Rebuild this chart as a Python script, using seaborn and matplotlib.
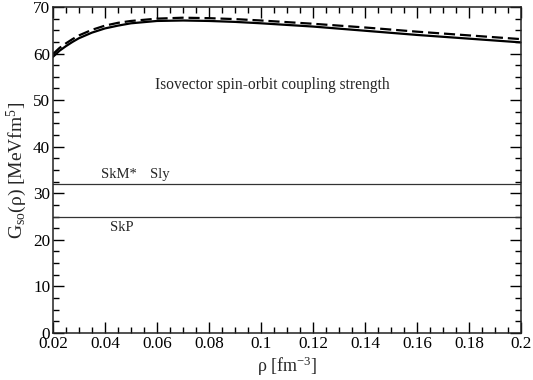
import numpy as np
import pandas as pd
import seaborn as sns
import matplotlib
matplotlib.use("Agg")
import matplotlib.pyplot as plt
import matplotlib.ticker as mtick

# density grid (fm^-3) and the two coupling-strength curves
rho = [0.02, 0.0225, 0.025, 0.0275, 0.03, 0.035, 0.04, 0.045, 0.05, 0.06, 0.07,
       0.08, 0.09, 0.10, 0.12, 0.14, 0.16, 0.18, 0.20]
g_solid = [59.3, 60.6, 61.6, 62.5, 63.3, 64.5, 65.4, 66.0, 66.5, 67.0, 67.1,
           67.0, 66.8, 66.5, 65.8, 64.9, 64.0, 63.2, 62.4]
g_dashed = [59.9, 61.2, 62.2, 63.1, 63.9, 65.1, 66.0, 66.6, 67.0, 67.5, 67.7,
            67.6, 67.4, 67.1, 66.4, 65.6, 64.7, 63.9, 63.1]

# constant values of the standard Skyrme forces
const_vals = [32.0, 25.0]

df = pd.DataFrame({
    "rho": rho * 2,
    "G": g_solid + g_dashed,
    "curve": ["solid"] * len(rho) + ["dashed"] * len(rho),
})

sns.set_style("ticks")
plt.rcParams["font.family"] = ["Liberation Serif", "DejaVu Serif"]
plt.rcParams["mathtext.fontset"] = "custom"
plt.rcParams["mathtext.rm"] = "Liberation Serif"
plt.rcParams["mathtext.it"] = "Liberation Serif:italic"

fig = plt.figure(figsize=(5.33, 3.80), dpi=100)
ax = fig.add_axes([0.0994, 0.1237, 0.8781, 0.8579])

sns.lineplot(data=df, x="rho", y="G", style="curve",
             dashes={"solid": "", "dashed": (5, 2.2)},
             color="black", linewidth=1.6, legend=False, ax=ax)

for v in const_vals:
    ax.axhline(v, color="#333333", linewidth=0.9)

ax.text(0.0385, 33.3, "SkM*", fontsize=10.5)
ax.text(0.0573, 33.3, "Sly", fontsize=10.5)
ax.text(0.0419, 22.0, "SkP", fontsize=10.5)
ax.text(0.0592, 52.3, "Isovector spin-orbit coupling strength", fontsize=11.2)

ax.set_xlim(0.02, 0.2)
ax.set_ylim(0, 70)
ax.xaxis.set_major_locator(mtick.MultipleLocator(0.02))
ax.xaxis.set_minor_locator(mtick.MultipleLocator(0.005))
ax.yaxis.set_major_locator(mtick.MultipleLocator(10))
ax.yaxis.set_minor_locator(mtick.MultipleLocator(2.5))
ax.xaxis.set_major_formatter(mtick.FuncFormatter(lambda x, pos: f"{x:g}"))

ax.tick_params(which="both", direction="in", top=True, right=True,
               labelsize=12.3, colors="black", width=1)
ax.tick_params(which="major", length=8, pad=2)
ax.tick_params(which="minor", length=4)
for s in ax.spines.values():
    s.set_linewidth(1.1)
    s.set_color("#222222")

ax.set_xlabel(r"ρ [fm$^{-3}$]", fontsize=13, labelpad=2)
ax.set_ylabel(r"G$_{\rm so}$(ρ) [MeVfm$^{5}$]", fontsize=14, labelpad=3)

fig.savefig("out.png", dpi=100)
